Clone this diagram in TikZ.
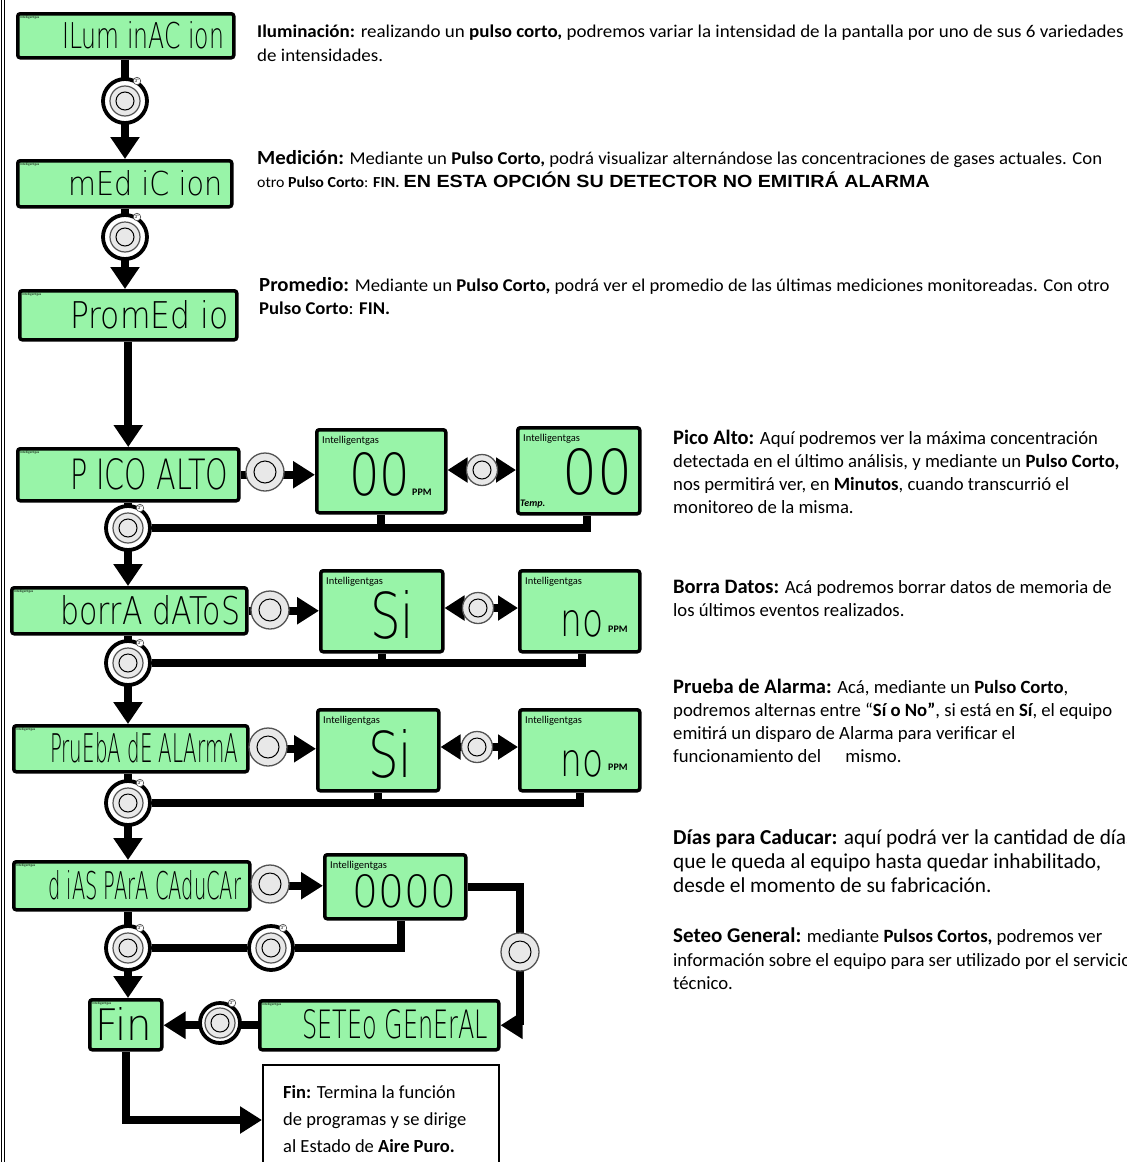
\documentclass[tikz,border=0pt]{standalone}
\usepackage{fontspec}
\usepackage{graphicx}
\setmainfont{Carlito}
\newfontfamily\lcdf{DejaVu Sans ExtraLight}
\newfontfamily\condf[FakeStretch=1.04]{Carlito}
\newfontfamily\condg[FakeStretch=1.055]{Carlito}
\newfontfamily\arialc[FakeStretch=1.12]{Liberation Sans}
\usetikzlibrary{arrows.meta,backgrounds}
\definecolor{lcdgreen}{RGB}{152,244,168}
\definecolor{btngray}{RGB}{232,232,232}
\tikzset{
  lcd/.style={draw=black, line width=3.5pt, fill=lcdgreen, rounded corners=2.5pt, inner sep=0pt, anchor=north west},
  tinylabel/.style={inner sep=0pt, font=\fontsize{3.5}{4}\selectfont, anchor=north west},
  biglabel/.style={inner sep=0pt, font=\fontsize{10.5}{12}\selectfont, anchor=west},
  unitlabel/.style={inner sep=0pt, font=\bfseries\fontsize{10}{12}\selectfont, anchor=west},
  btn/.style={circle, draw=gray!65!black, line width=1.3pt, fill=btngray, inner sep=0pt, minimum size=38pt,
     path picture={\draw[black, line width=1pt] (path picture bounding box.center) circle (11pt);}},
  sbtn/.style={btn, minimum size=31pt,
     path picture={\draw[black, line width=1pt] (path picture bounding box.center) circle (9pt);}},
  tbtn/.style={circle, draw=black, line width=3.8pt, fill=white, inner sep=0pt, minimum size=44pt,
     path picture={\draw[gray!65!black, line width=1.2pt, fill=btngray] (path picture bounding box.center) circle (15pt);
                   \draw[black, line width=1pt] (path picture bounding box.center) circle (9pt);}},
  tsec/.style={circle, draw=gray!60!black, fill=white, line width=0.6pt, inner sep=0.6pt, font=\fontsize{5}{5}\selectfont},
  wire/.style={line width=8pt},
  vconn/.style={line width=8pt, -{Triangle[width=28pt,length=22pt]}},
  hconn/.style={line width=8pt, -{Triangle[width=26pt,length=22pt]}},
  dconn/.style={line width=8pt, {Triangle[width=24pt,length=20pt]}-{Triangle[width=24pt,length=20pt]}},
  para/.style={inner sep=0pt, anchor=north west, align=left},
}
% small LCD: name, x1, y1, x2, y2, text, text x, text w, text h
\newcommand{\slcd}[9]{%
  \node[lcd, minimum width={(#4-#2)*1pt}, minimum height={(#5-#3)*1pt}] (#1) at (#2,#3) {};
  \node[tinylabel] (#1-i) at (#2+4,#3+4) {Intelligentgas};
  \node[anchor=west, inner sep=0pt] (#1-t) at (#7,{(#3+#5)/2+1}) {\resizebox{#8pt}{#9pt}{\lcdf #6}};
}
% big LCD: name, x1, y1, x2, y2
\newcommand{\blcd}[5]{%
  \node[lcd, minimum width={(#4-#2)*1pt}, minimum height={(#5-#3)*1pt}] (#1) at (#2,#3) {};
  \node[biglabel] (#1-i) at (#2+7,#3+13) {Intelligentgas};
}
% timer label
\newcommand{\tlab}[1]{\node[tsec] (#1-s) at ([shift={(12pt,20pt)}]#1.center) {3"};}
\begin{document}
\begin{tikzpicture}[x=1pt,y=-1pt]
\useasboundingbox (0,0) rectangle (1127,1162);
\draw[line width=1pt] (1,0) -- (1,1162);
\draw[line width=1pt] (4,0) -- (4,1162);

% ---------- main column LCDs ----------
\slcd{L1}{16}{12}{232}{56}{ILum inAC ion}{62}{162}{27}
\slcd{L2}{16}{159}{230}{205}{mEd iC ion}{68}{154}{25}
\slcd{L3}{18}{289}{235}{338}{PromEd io}{70}{158}{28}
\slcd{L4}{16}{447}{237}{499}{P ICO ALTO}{70}{158}{31}
\slcd{L5}{10}{586}{245}{632}{borrA dAToS}{60}{180}{29}
\slcd{L6}{12}{724}{246}{770}{PruEbA dE ALArmA}{50}{188}{30}
\slcd{L7}{12}{860}{248}{908}{d iAS PArA CAduCAr}{48}{193}{29}
\slcd{L8}{88}{998}{160}{1048}{Fin}{95}{57}{33}
\slcd{L9}{258}{999}{497}{1048}{SETEo GEnErAL}{302}{186}{29}

% ---------- value LCDs ----------
\blcd{V41}{315}{428}{444}{511}
\node[anchor=west, inner sep=0pt] (V41-t) at (349,474) {\resizebox{61pt}{43pt}{\lcdf 00}};
\node[unitlabel] (V41-u) at (412,492) {PPM};
\blcd{V42}{516}{426}{638}{512}
\node[anchor=west, inner sep=0pt] (V42-t) at (562,472) {\resizebox{70pt}{46pt}{\lcdf 00}};
\node[unitlabel, font=\bfseries\itshape\fontsize{10}{12}\selectfont] (V42-u) at (520,504) {Temp.};

\blcd{V51}{319}{569}{441}{650}
\node[anchor=west, inner sep=0pt] (V51-t) at (370,615) {\resizebox{44pt}{48pt}{\lcdf Si}};
\blcd{V52}{518}{569}{638}{650}
\node[anchor=west, inner sep=0pt] (V52-t) at (560,624) {\resizebox{43pt}{26pt}{\lcdf no}};
\node[unitlabel] (V52-u) at (608,629) {PPM};

\blcd{V61}{316}{708}{437}{789}
\node[anchor=west, inner sep=0pt] (V61-t) at (368,754) {\resizebox{44pt}{48pt}{\lcdf Si}};
\blcd{V62}{518}{708}{638}{789}
\node[anchor=west, inner sep=0pt] (V62-t) at (560,764) {\resizebox{43pt}{26pt}{\lcdf no}};
\node[unitlabel] (V62-u) at (608,767) {PPM};

\blcd{V71}{323}{853}{464}{917}
\node[anchor=west, inner sep=0pt] (V71-t) at (352,891) {\resizebox{104pt}{33pt}{\lcdf 0000}};

% ---------- buttons ----------
\node[tbtn] (T1) at (125,101) {}; \tlab{T1}
\node[tbtn] (T2) at (125,237) {}; \tlab{T2}
\node[tbtn] (T4) at (128,528) {}; \tlab{T4}
\node[tbtn] (T5) at (128,663) {}; \tlab{T5}
\node[tbtn] (T6) at (128,803) {}; \tlab{T6}
\node[tbtn] (T7) at (128,948) {}; \tlab{T7}
\node[tbtn] (T7b) at (271,948) {}; \tlab{T7b}
\node[tbtn, minimum size=40pt] (T9) at (220,1023) {}; \tlab{T9}

\node[btn] (P4) at (265,472) {};
\node[sbtn] (M4) at (482,470) {};
\node[btn] (P5) at (270,610) {};
\node[sbtn] (M5) at (478,608) {};
\node[btn] (P6) at (268,747) {};
\node[sbtn] (M6) at (477,747) {};
\node[btn] (P7) at (270,884) {};
\node[btn] (R7) at (520,952) {};

% ---------- Fin text box ----------
\node[draw=black, line width=2pt, anchor=north west, minimum width=236pt, minimum height=110pt, inner sep=0pt] (FT) at (262,1064) {};
\node[para, font=\fontsize{18.5}{27}\selectfont] (FT-t) at (283,1085) {\textbf{Fin:} Termina la función\\de programas y se dirige\\al Estado de \textbf{Aire Puro.}};

% ---------- connectors ----------
\begin{pgfonlayer}{background}
\draw[vconn] (T1 |- L1.south) -- (T1 |- L2.north);
\draw[vconn] (T2 |- L2.south) -- (T2 |- L3.north);
\draw[vconn] (L3.south) -- (L3.south |- L4.north);
% pico alto
\draw[hconn] (L4.east) -- (V41.west |- L4.east);
\draw[dconn] (V41.east |- M4) -- (V42.west |- M4);
\draw[vconn] (T4 |- L4.south) -- (T4 |- L5.north);
\draw[wire] (T4) -| ([xshift=8pt]V42.south);
\draw[wire] (V41.south) -- (V41.south |- T4);
% borra datos
\draw[hconn] (L5.east) -- (V51.west |- L5.east);
\draw[dconn] (V51.east |- M5) -- (V52.west |- M5);
\draw[vconn] (T5 |- L5.south) -- (T5 |- L6.north);
\draw[wire] (T5) -| ([xshift=2pt]V52.south);
\draw[wire] (V51.south) -- (V51.south |- T5);
% prueba de alarma
\draw[hconn] (L6.east) -- (V61.west |- L6.east);
\draw[dconn] (V61.east |- M6) -- (V62.west |- M6);
\draw[vconn] (T6 |- L6.south) -- (T6 |- L7.north);
\draw[wire] (T6) -| (V62.south);
\draw[wire] (V61.south) -- (V61.south |- T6);
% dias para caducar
\draw[hconn] (L7.east) -- (V71.west |- L7.east);
\draw[wire] (T7) -- (T7b) -| ([xshift=6pt]V71.south);
\draw[hconn] (V71.east) -| (R7.center) |- (L9.east);
\draw[vconn] (T7 |- L7.south) -- (T7 |- L8.north);
% seteo general -> fin
\draw[hconn] (L9.west) -- (L8.east |- L9.west);
% fin -> text box
\draw[hconn] (L8.south) |- (FT.west);
\end{pgfonlayer}

% ---------- descriptions ----------
\node[para, font=\condg\fontsize{18}{24}\selectfont] (D1) at (257,25) {\textbf{Iluminación:} realizando un \textbf{pulso corto,} podremos variar la intensidad de la pantalla por uno de sus 6 variedades\\de intensidades.};
\node[para, font=\condf\fontsize{18}{23}\selectfont] (D2) at (257,150) {{\fontsize{20}{23}\selectfont\textbf{Medición:}} Mediante un \textbf{Pulso Corto,} podrá visualizar alternándose las concentraciones de gases actuales. Con\\{\fontsize{15.3}{23}\selectfont otro \textbf{Pulso Corto}: \textbf{FIN.}} {\arialc\bfseries\fontsize{17.6}{23}\selectfont EN ESTA OPCIÓN SU DETECTOR NO EMITIRÁ ALARMA}};
\node[para, font=\condf\fontsize{18}{23}\selectfont] (D3) at (259,277) {{\fontsize{20}{23}\selectfont\textbf{Promedio:}} Mediante un \textbf{Pulso Corto,} podrá ver el promedio de las últimas mediciones monitoreadas. Con otro\\\textbf{Pulso Corto}: \textbf{FIN.}};
\node[para, font=\fontsize{18.7}{23}\selectfont] (D4) at (673,430) {{\fontsize{20.5}{23}\selectfont\textbf{Pico Alto:}} Aquí podremos ver la máxima concentración\\detectada en el último análisis, y mediante un \textbf{Pulso Corto,}\\nos permitirá ver, en \textbf{Minutos}, cuando transcurrió el\\monitoreo de la misma.};
\node[para, font=\fontsize{18.7}{23}\selectfont] (D5) at (673,580) {{\fontsize{20.5}{23}\selectfont\textbf{Borra Datos:}} Acá podremos borrar datos de memoria de\\los últimos eventos realizados.};
\node[para, font=\fontsize{18.7}{23}\selectfont] (D6) at (673,679) {{\fontsize{20.5}{23}\selectfont\textbf{Prueba de Alarma:}} Acá, mediante un \textbf{Pulso Corto},\\podremos alternas entre “\textbf{Sí o No”}, si está en \textbf{Sí}, el equipo\\emitirá un disparo de Alarma para verificar el\\funcionamiento del\hspace{1.3em}mismo.};
\node[para, font=\fontsize{21.3}{24}\selectfont] (D7) at (673,829) {\textbf{Días para Caducar:} aquí podrá ver la cantidad de días\\que le queda al equipo hasta quedar inhabilitado,\\desde el momento de su fabricación.};
\node[para, font=\fontsize{18.7}{23.5}\selectfont] (D8) at (673,928) {{\fontsize{21}{23}\selectfont\textbf{Seteo General:}} mediante \textbf{Pulsos Cortos,} podremos ver\\información sobre el equipo para ser utilizado por el servicio\\técnico.};
\end{tikzpicture}
\end{document}
